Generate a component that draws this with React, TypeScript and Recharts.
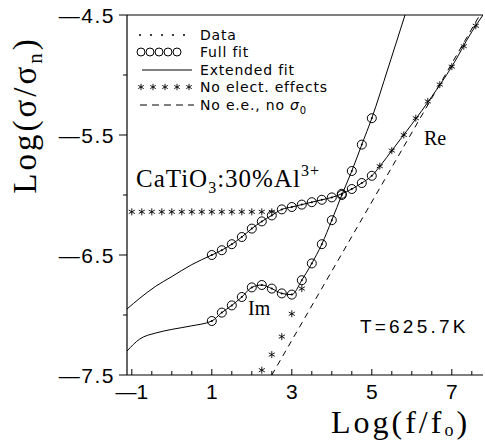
import { LineChart, Line, XAxis, YAxis, ReferenceLine } from 'recharts';

// frequencies of the fitted points, log(f/fo)
const fitX = [1, 1.25, 1.5, 1.75, 2, 2.25, 2.5, 2.75, 3, 3.25, 3.5, 3.75, 4, 4.25, 4.5, 4.75, 5];
const reFitY = [-6.5, -6.46, -6.41, -6.35, -6.28, -6.22, -6.17, -6.12, -6.1, -6.08, -6.06, -6.04, -6.02, -5.99, -5.95, -5.9, -5.84];
const imFitY = [-7.05, -6.98, -6.92, -6.85, -6.77, -6.75, -6.78, -6.82, -6.83, -6.71, -6.57, -6.41, -6.21, -6.0, -5.8, -5.58, -5.36];

// extended fit outside the measured range
const extLowX = [-1.12, -0.8, -0.4, 0, 0.5];
const reExtLowY = [-6.95, -6.86, -6.76, -6.68, -6.58];
const imExtLowY = [-7.3, -7.2, -7.15, -7.12, -7.09];
const reExtHighX = [5.25, 5.5, 5.75, 6, 6.5, 7, 7.5, 7.78];
const reExtHighY = [-5.74, -5.63, -5.52, -5.41, -5.18, -4.93, -4.64, -4.5];
const imExtHighX = [5.4, 5.83];
const imExtHighY = [-4.95, -4.5];

// no electrode effects (asterisks)
const noEeLowX = [-1, -0.75, -0.5, -0.25, 0, 0.25, 0.5, 0.75, 1, 1.25, 1.5, 1.75, 2, 2.25, 2.5];
const noEeLowY = [-6.14, -6.14, -6.14, -6.14, -6.14, -6.14, -6.14, -6.14, -6.14, -6.14, -6.14, -6.14, -6.14, -6.14, -6.14];
const noEeHighX = [5.2, 5.5, 5.8, 6.1, 6.4, 6.7, 7.0, 7.3, 7.6];
const noEeHighY = [-5.76, -5.63, -5.5, -5.36, -5.22, -5.08, -4.93, -4.76, -4.59];
const noEeImX = [2.25, 2.5, 2.75, 3.0, 3.25];
const noEeImY = [-7.46, -7.33, -7.18, -6.99, -6.78];

// no e.e., no sigma0 (dashed)
const dashX = [2.5, 7.7];
const dashY = [-7.5, -4.5];

const xTicks = [-1, -0.5, 0, 0.5, 1, 1.5, 2, 2.5, 3, 3.5, 4, 4.5, 5, 5.5, 6, 6.5, 7, 7.5];
const xLabels = [-1, 1, 3, 5, 7];
const yTicks = [-7.5, -7, -6.5, -6, -5.5, -5, -4.5];
const yLabels = [-7.5, -6.5, -5.5, -4.5];

const pts = (xs: number[], ys: number[]) => xs.map((x, i) => ({ x, y: ys[i] }));

const reLine = [...pts(extLowX, reExtLowY), ...pts(fitX, reFitY), ...pts(reExtHighX, reExtHighY)];
const imLine = [...pts(extLowX, imExtLowY), ...pts(fitX, imFitY), ...pts(imExtHighX, imExtHighY)];

const SANS = '"Liberation Sans", Arial, sans-serif';
const SERIF = '"Liberation Serif", "Times New Roman", serif';
const LEG = '"DejaVu Sans", sans-serif';

const fmt = (v: number) => (v < 0 ? '\u2014' + Math.abs(v) : String(v));

const XTick = ({ x, y, payload }: any) => {
  const v = payload.value;
  const major = xLabels.includes(v);
  return (
    <g>
      <line x1={x} x2={x} y1={y} y2={y - (major ? 6 : 4)} stroke="#000" />
      {major && (
        <text x={x} y={y + 24} textAnchor="middle" fontSize={21} fontFamily={SANS} fill="#000">
          {fmt(v)}
        </text>
      )}
    </g>
  );
};

const YTick = ({ x, y, payload }: any) => {
  const v = payload.value;
  const major = yLabels.includes(v);
  return (
    <g>
      <line x1={x} x2={x - (major ? 8 : 4)} y1={y} y2={y} stroke="#000" />
      {major && (
        <text x={x - 12} y={y + 8} textAnchor="end" fontSize={21} letterSpacing={1.5} fontFamily={SANS} fill="#000">
          {fmt(v)}
        </text>
      )}
    </g>
  );
};

const Star = ({ cx, cy, s = 3.5 }: { cx: number; cy: number; s?: number }) => (
  <g stroke="#000" strokeWidth={0.9}>
    <line x1={cx} x2={cx} y1={cy - s} y2={cy + s} />
    <line x1={cx - s * 0.87} x2={cx + s * 0.87} y1={cy - s * 0.5} y2={cy + s * 0.5} />
    <line x1={cx - s * 0.87} x2={cx + s * 0.87} y1={cy + s * 0.5} y2={cy - s * 0.5} />
  </g>
);

const circleDot = (p: any) => (
  <circle key={`c${p.index}`} cx={p.cx} cy={p.cy} r={4.5} fill="none" stroke="#000" strokeWidth={1} />
);
const smallDot = (p: any) => <circle key={`d${p.index}`} cx={p.cx} cy={p.cy} r={1} fill="#000" />;
const starDot = (p: any) => <Star key={`s${p.index}`} cx={p.cx} cy={p.cy} />;

export default function App() {
  return (
    <div style={{ position: 'absolute', left: 0, top: 0, width: 485, height: 440, background: '#fff' }}>
      <LineChart width={485} height={440} margin={{ top: 15, right: 2, bottom: 0, left: 0 }}>
        <XAxis
          type="number"
          dataKey="x"
          domain={[-1.12, 7.78]}
          allowDataOverflow
          ticks={xTicks}
          interval={0}
          tick={<XTick />}
          tickLine={false}
          tickSize={0}
          tickMargin={0}
          height={65}
          axisLine={{ stroke: '#000', strokeWidth: 1.2 }}
        />
        <YAxis
          type="number"
          dataKey="y"
          domain={[-7.5, -4.5]}
          allowDataOverflow
          ticks={yTicks}
          interval={0}
          tick={<YTick />}
          tickLine={false}
          tickSize={0}
          tickMargin={0}
          width={127}
          axisLine={{ stroke: '#000', strokeWidth: 1.2 }}
        />
        <ReferenceLine y={-4.5} stroke="#000" strokeWidth={1.2} />
        <Line data={reLine} dataKey="y" type="monotone" stroke="#000" strokeWidth={1} dot={false} isAnimationActive={false} />
        <Line data={imLine} dataKey="y" type="monotone" stroke="#000" strokeWidth={1} dot={false} isAnimationActive={false} />
        <Line data={pts(dashX, dashY)} dataKey="y" stroke="#000" strokeWidth={1} strokeDasharray="6 5" dot={false} isAnimationActive={false} />
        <Line data={pts(fitX, reFitY)} dataKey="y" stroke="none" dot={circleDot} isAnimationActive={false} />
        <Line data={pts(fitX, imFitY)} dataKey="y" stroke="none" dot={circleDot} isAnimationActive={false} />
        <Line data={pts(fitX, reFitY)} dataKey="y" stroke="none" dot={smallDot} isAnimationActive={false} />
        <Line data={pts(fitX, imFitY)} dataKey="y" stroke="none" dot={smallDot} isAnimationActive={false} />
        <Line data={pts(noEeLowX, noEeLowY)} dataKey="y" stroke="none" dot={starDot} isAnimationActive={false} />
        <Line data={pts(noEeHighX, noEeHighY)} dataKey="y" stroke="none" dot={starDot} isAnimationActive={false} />
        <Line data={pts(noEeImX, noEeImY)} dataKey="y" stroke="none" dot={starDot} isAnimationActive={false} />
      </LineChart>
      <svg width={485} height={440} style={{ position: 'absolute', left: 0, top: 0, pointerEvents: 'none' }}>
        {/* axis titles */}
        <text transform="translate(36,115) rotate(-90)" textAnchor="middle" fontFamily={SERIF} fontSize={33} letterSpacing={3} fill="#000">
          Log(σ/σ<tspan fontSize={21} dy={6}>n</tspan><tspan dy={-6}>)</tspan>
        </text>
        <text x={331} y={433} fontFamily={SERIF} fontSize={32} letterSpacing={3} fill="#000">
          Log(f/f<tspan fontSize={18} dy={3}>o</tspan><tspan dy={-3}>)</tspan>
        </text>
        {/* annotations */}
        <text x={136} y={187} fontFamily={SERIF} fontSize={25} letterSpacing={1} fill="#000">
          CaTiO<tspan fontSize={16} dy={6}>3</tspan><tspan dy={-6}>:30%Al</tspan><tspan fontSize={16} dy={-11}>3+</tspan>
        </text>
        <text x={424} y={145} fontFamily={SERIF} fontSize={20} fill="#000">Re</text>
        <text x={248} y={315} fontFamily={SERIF} fontSize={20} fill="#000">Im</text>
        <text x={360} y={333} fontFamily={SANS} fontSize={19} letterSpacing={3.2} fill="#000">T=625.7K</text>
        {/* legend */}
        <g fontFamily={LEG} fontSize={14} fill="#000" letterSpacing={0.8}>
          {[140, 151, 162, 173, 184].map((x) => <circle key={x} cx={x} cy={35} r={1} fill="#000" />)}
          <text x={200} y={40}>Data</text>
          {[141, 150, 159, 168, 177].map((x) => <circle key={x} cx={x} cy={52} r={4} fill="none" stroke="#000" />)}
          <text x={200} y={57}>Full fit</text>
          <line x1={142} x2={192} y1={70} y2={70} stroke="#000" />
          <text x={200} y={75}>Extended fit</text>
          {[141, 153, 165, 177, 189].map((x) => <Star key={x} cx={x} cy={87} s={3.2} />)}
          <text x={200} y={92}>No elect. effects</text>
          <line x1={140} x2={194} y1={105} y2={105} stroke="#000" strokeDasharray="7 5" />
          <text x={200} y={110}>
            No e.e., no <tspan fontStyle="italic">σ</tspan><tspan fontSize={10} dy={4}>0</tspan>
          </text>
        </g>
      </svg>
    </div>
  );
}
